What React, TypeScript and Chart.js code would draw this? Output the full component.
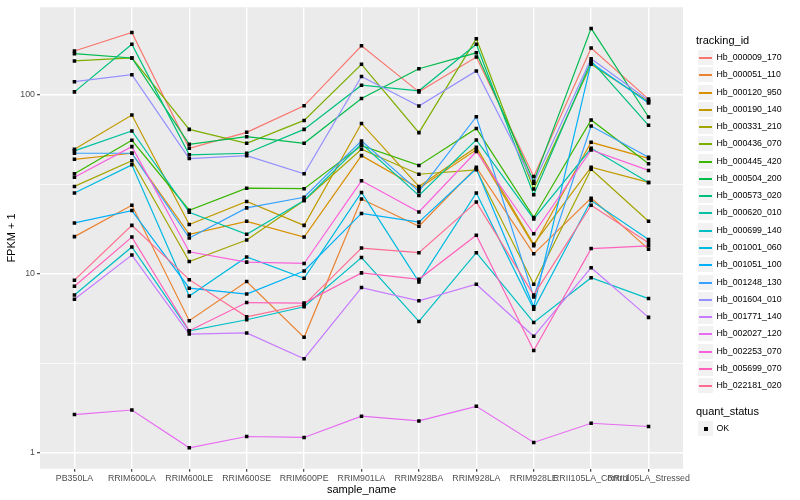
import React, { useEffect, useRef } from 'react';
import { Chart, registerables } from 'chart.js';

Chart.register(...registerables);

const FONT = '"Liberation Sans", Arial, Helvetica, sans-serif';

const categories = [
  'PB350LA', 'RRIM600LA', 'RRIM600LE', 'RRIM600SE', 'RRIM600PE', 'RRIM901LA',
  'RRIM928BA', 'RRIM928LA', 'RRIM928LE', 'RRII105LA_Control', 'RRII105LA_Stressed',
];

const trackingIds = [
  'Hb_000009_170', 'Hb_000051_110', 'Hb_000120_950', 'Hb_000190_140', 'Hb_000331_210',
  'Hb_000436_070', 'Hb_000445_420', 'Hb_000504_200', 'Hb_000573_020', 'Hb_000620_010',
  'Hb_000699_140', 'Hb_001001_060', 'Hb_001051_100', 'Hb_001248_130', 'Hb_001604_010',
  'Hb_001771_140', 'Hb_002027_120', 'Hb_002253_070', 'Hb_005699_070', 'Hb_022181_020',
];

// FPKM + 1, one value per sample_name
const hb000009170 = [175, 222, 50.1, 61.5, 86.5, 187, 103.5, 162, 34.9, 182, 94.3];
const hb000051110 = [16.1, 24.1, 5.46, 9.03, 4.41, 26.1, 18.4, 39.2, 12.9, 26.4, 13.7];
const hb000120950 = [43.5, 47, 16.6, 19.6, 16.0, 45.6, 30.0, 49.1, 14.3, 54.1, 44.0];
const hb000190140 = [49.5, 76.9, 18.8, 25.3, 18.6, 69, 30.7, 50.8, 14.6, 39.3, 32.3];
const hb000331210 = [30.7, 42.7, 11.7, 15.4, 25.6, 49.5, 35.9, 38.0, 8.73, 38.3, 19.6];
const hb000436070 = [154, 160, 63.9, 53.4, 71.7, 147.5, 61.3, 205, 29.7, 147.5, 91];
const hb000445420 = [36.1, 55.5, 22.6, 30.0, 29.8, 51.9, 40.2, 64.7, 20.6, 72.1, 41.1];
const hb000504200 = [169, 160, 52.7, 58.2, 53.4, 95, 139.4, 171, 32.7, 234, 74.9];
const hb000573020 = [103.5, 191, 46.1, 47, 63.9, 112.8, 104.9, 191, 27.6, 154, 67.3];
const hb000620010 = [48.5, 62.6, 22.0, 16.6, 25.6, 53, 27.3, 55.8, 20.2, 50.1, 32.3];
const hb000699140 = [7.6, 14.1, 4.8, 5.53, 6.53, 12.3, 5.41, 13.1, 5.34, 9.5, 7.26];
const hb001001060 = [28.2, 40.5, 7.5, 12.4, 9.43, 28.4, 9.0, 28.2, 6.34, 25.6, 15.5];
const hb001051100 = [19.2, 22.5, 8.3, 7.69, 10.35, 21.7, 19.4, 38.5, 6.53, 150.6, 89.6];
const hb001248130 = [47, 47, 15.8, 23.3, 26.7, 55.1, 28.8, 75.2, 7.42, 66.7, 44.7];
const hb001604010 = [118, 129, 43.9, 45.6, 36.1, 126, 86.2, 135.5, 32, 158.5, 92.6];
const hb001771140 = [7.2, 12.7, 4.6, 4.67, 3.35, 8.36, 7.05, 8.73, 4.47, 10.8, 5.7];
const hb002027120 = [1.635, 1.733, 1.066, 1.233, 1.218, 1.6, 1.506, 1.817, 1.142, 1.462, 1.402];
const hb002253070 = [34.5, 51.2, 13.25, 11.6, 11.4, 33, 22.1, 48.1, 16.7, 49.1, 37.7];
const hb005699070 = [8.5, 16.0, 4.8, 6.9, 6.85, 10.1, 9.3, 16.4, 3.72, 13.8, 14.3];
const hb022181020 = [9.2, 18.6, 9.26, 5.74, 6.7, 13.9, 13.1, 25.1, 7.59, 24.1, 14.9];

const seriesValues = [
  hb000009170, hb000051110, hb000120950, hb000190140, hb000331210,
  hb000436070, hb000445420, hb000504200, hb000573020, hb000620010,
  hb000699140, hb001001060, hb001051100, hb001248130, hb001604010,
  hb001771140, hb002027120, hb002253070, hb005699070, hb022181020,
];

const quantStatus = ['OK'];

const yMajorTicks = [1, 10, 100];
const yMinorTicks = [3.1623, 31.623];

const palette = [
  '#F8766D', '#EA8331', '#D89000', '#C09B00', '#A3A500', '#7CAE00', '#39B600',
  '#00BB4E', '#00BF7D', '#00C1A3', '#00BFC4', '#00BAE0', '#00B0F6', '#35A2FF',
  '#9590FF', '#C77CFF', '#E76BF3', '#FA62DB', '#FF62BC', '#FF6C91',
];

const panelBg = {
  id: 'panelBg',
  beforeDraw(chart: any) {
    const { ctx, chartArea } = chart;
    ctx.save();
    ctx.fillStyle = '#EBEBEB';
    ctx.fillRect(chartArea.left, chartArea.top, chartArea.right - chartArea.left, chartArea.bottom - chartArea.top);
    ctx.restore();
  },
};

const isMajor = (v: number) => yMajorTicks.some((m) => Math.abs(m - v) < 1e-6);

function LegendKey({ top, children }: { top: number; children: React.ReactNode }) {
  return (
    <div
      style={{
        position: 'absolute', left: 697, top, width: 17, height: 17,
        background: '#F2F2F2', boxSizing: 'border-box', border: '0.6px solid #FFFFFF',
      }}
    >
      {children}
    </div>
  );
}

export default function App() {
  const ref = useRef<HTMLCanvasElement>(null);

  useEffect(() => {
    const lineSets = seriesValues.map((vals, i) => ({
      label: trackingIds[i],
      data: vals.map((v, j) => ({ x: j, y: v })),
      borderColor: palette[i],
      backgroundColor: palette[i],
      borderWidth: 1.2,
      pointRadius: 0,
      tension: 0,
      fill: false,
      order: seriesValues.length - i,
    }));
    const pointSet = {
      label: quantStatus[0],
      data: seriesValues.flatMap((vals) => vals.map((v, j) => ({ x: j, y: v }))),
      showLine: false,
      pointStyle: 'rect',
      pointRadius: 2.5,
      pointBorderWidth: 0,
      pointBackgroundColor: '#000000',
      borderColor: '#000000',
      order: 0,
    };

    const chart = new Chart(ref.current as HTMLCanvasElement, {
      type: 'line',
      data: { datasets: [...lineSets, pointSet] as any },
      plugins: [panelBg],
      options: {
        responsive: false,
        animation: false,
        events: [],
        layout: { padding: { left: 0, top: 5, right: 117, bottom: 0 } },
        plugins: { legend: { display: false }, tooltip: { enabled: false } },
        scales: {
          x: {
            type: 'linear',
            min: -0.6,
            max: 10.6,
            afterBuildTicks: (s: any) => {
              s.ticks = categories.map((_, i) => ({ value: i }));
            },
            afterFit: (s: any) => {
              s.height = 31.3;
            },
            ticks: {
              autoSkip: false,
              maxRotation: 0,
              minRotation: 0,
              padding: 1.5,
              color: '#4D4D4D',
              font: { family: FONT, size: 8.8 },
              callback: (v: any) => categories[v as number] ?? '',
            },
            grid: {
              color: '#FFFFFF',
              lineWidth: 1.4,
              drawTicks: true,
              tickLength: 3,
              tickColor: '#333333',
              tickWidth: 1.1,
            },
            border: { display: false },
            title: {
              display: true,
              text: 'sample_name',
              color: '#000000',
              font: { family: FONT, size: 11 },
              padding: { top: 0, bottom: 3.9 },
            },
          },
          y: {
            type: 'logarithmic',
            min: 0.815,
            max: 307,
            afterBuildTicks: (s: any) => {
              s.ticks = [...yMajorTicks, ...yMinorTicks].sort((a, b) => a - b).map((v) => ({ value: v }));
            },
            afterFit: (s: any) => {
              s.width = 40;
            },
            ticks: {
              autoSkip: false,
              padding: 2,
              color: '#4D4D4D',
              font: { family: FONT, size: 8.8 },
              callback: (v: any) => (isMajor(Number(v)) ? String(Math.round(Number(v))) : ''),
            },
            grid: {
              color: '#FFFFFF',
              lineWidth: (c: any) => (c.tick && isMajor(c.tick.value) ? 1.4 : 0.7),
              drawTicks: true,
              tickLength: 3,
              tickColor: (c: any) => (c.tick && isMajor(c.tick.value) ? '#333333' : 'rgba(0,0,0,0)'),
              tickWidth: 1.1,
            },
            border: { display: false },
            title: {
              display: true,
              text: 'FPKM + 1',
              color: '#000000',
              font: { family: FONT, size: 11 },
              padding: { top: 5, bottom: 0 },
            },
          },
        },
      } as any,
    });
    return () => chart.destroy();
  }, []);

  const keyTops = trackingIds.map((_, i) => Math.round(49 + i * 17.27));

  return (
    <div style={{ position: 'fixed', left: 0, top: 0, width: 800, height: 500, background: '#FFFFFF', fontFamily: FONT, color: '#000' }}>
      <canvas ref={ref} width={800} height={500} style={{ position: 'absolute', left: 0, top: 0, width: 800, height: 500 }} />
      <div style={{ position: 'absolute', left: 696, top: 33, fontSize: 11, lineHeight: '14px', whiteSpace: 'nowrap' }}>tracking_id</div>
      {trackingIds.map((id, i) => (
        <React.Fragment key={id}>
          <LegendKey top={keyTops[i]}>
            <div style={{ position: 'absolute', left: 1, right: 1, top: 7, height: 2, background: palette[i] }} />
          </LegendKey>
          <div style={{ position: 'absolute', left: 716.5, top: keyTops[i], height: 17, lineHeight: '17px', fontSize: 8.8, whiteSpace: 'nowrap' }}>
            {id}
          </div>
        </React.Fragment>
      ))}
      <div style={{ position: 'absolute', left: 696, top: 404, fontSize: 11, lineHeight: '14px', whiteSpace: 'nowrap' }}>quant_status</div>
      {quantStatus.map((q, i) => (
        <React.Fragment key={q}>
          <LegendKey top={420 + i * 17}>
            <div style={{ position: 'absolute', left: 6, top: 6, width: 4, height: 4, background: '#000' }} />
          </LegendKey>
          <div style={{ position: 'absolute', left: 716.5, top: 420 + i * 17, height: 17, lineHeight: '17px', fontSize: 8.8, whiteSpace: 'nowrap' }}>
            {q}
          </div>
        </React.Fragment>
      ))}
    </div>
  );
}
